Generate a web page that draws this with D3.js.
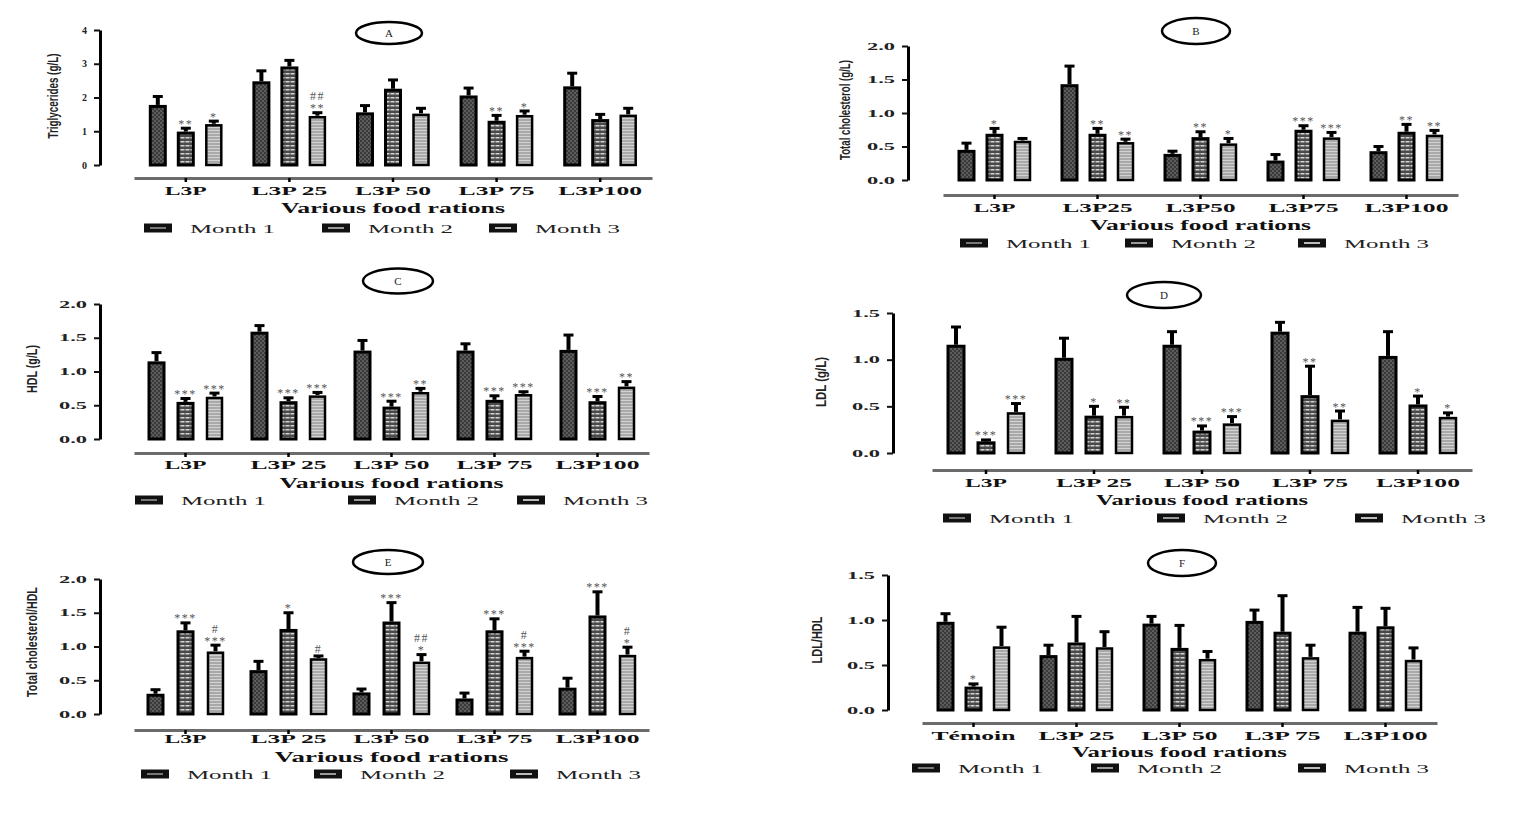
<!DOCTYPE html>
<html>
<head>
<meta charset="utf-8">
<script src="https://cdn.jsdelivr.net/npm/d3@7"></script>
<style>
html, body { margin: 0; padding: 0; background: #fff; }
svg { display: block; font-family: "Liberation Serif", "DejaVu Serif", serif; }
</style>
</head>
<body>
<svg id="chart" width="1513" height="825"></svg>
<script>
const months = ["Month 1", "Month 2", "Month 3"];
const rationsA = ["L3P", "L3P 25", "L3P 50", "L3P 75", "L3P100"];
const rationsB = ["L3P", "L3P25", "L3P50", "L3P75", "L3P100"];
const rationsF = ["Témoin", "L3P 25", "L3P 50", "L3P 75", "L3P100"];
const xTitle = "Various food rations";

// rows = rations, columns = month 1..3
const trigMean = [[1.78, 0.99, 1.22], [2.48, 2.92, 1.46], [1.56, 2.26, 1.53], [2.06, 1.31, 1.49], [2.33, 1.36, 1.50]];
const trigErr  = [[0.25, 0.10, 0.08], [0.31, 0.18, 0.09], [0.20, 0.26, 0.15], [0.22, 0.16, 0.11], [0.39, 0.14, 0.18]];
const cholMean = [[0.45, 0.69, 0.59], [1.43, 0.69, 0.57], [0.39, 0.64, 0.55], [0.29, 0.75, 0.64], [0.43, 0.72, 0.68]];
const cholErr  = [[0.10, 0.08, 0.03], [0.27, 0.08, 0.04], [0.04, 0.08, 0.07], [0.09, 0.06, 0.07], [0.07, 0.11, 0.06]];
const hdlMean  = [[1.15, 0.55, 0.63], [1.59, 0.56, 0.65], [1.31, 0.48, 0.70], [1.31, 0.58, 0.67], [1.32, 0.56, 0.78]];
const hdlErr   = [[0.13, 0.05, 0.05], [0.09, 0.05, 0.04], [0.15, 0.08, 0.05], [0.10, 0.06, 0.03], [0.22, 0.07, 0.07]];
const ldlMean  = [[1.16, 0.125, 0.44], [1.02, 0.40, 0.40], [1.16, 0.24, 0.32], [1.30, 0.62, 0.36], [1.04, 0.52, 0.39]];
const ldlErr   = [[0.19, 0.015, 0.09], [0.21, 0.10, 0.09], [0.14, 0.05, 0.07], [0.10, 0.31, 0.09], [0.26, 0.09, 0.04]];
const tcHdlMean = [[0.30, 1.24, 0.93], [0.65, 1.26, 0.83], [0.32, 1.37, 0.78], [0.23, 1.24, 0.85], [0.39, 1.46, 0.88]];
const tcHdlErr  = [[0.06, 0.11, 0.09], [0.13, 0.24, 0.03], [0.05, 0.28, 0.10], [0.08, 0.17, 0.08], [0.14, 0.35, 0.11]];
const ldlHdlMean = [[0.98, 0.26, 0.71], [0.61, 0.75, 0.70], [0.96, 0.69, 0.57], [0.99, 0.87, 0.59], [0.87, 0.93, 0.56]];
const ldlHdlErr  = [[0.09, 0.03, 0.21], [0.11, 0.29, 0.17], [0.08, 0.25, 0.08], [0.12, 0.40, 0.13], [0.27, 0.20, 0.13]];

// significance marks: [ration, month, lines from bottom up]
const trigNotes = [[0, 1, ["**"]], [0, 2, ["*"]], [1, 2, ["**", "##"]], [3, 1, ["**"]], [3, 2, ["*"]]];
const cholNotes = [[0, 1, ["*"]], [1, 1, ["**"]], [1, 2, ["**"]], [2, 1, ["**"]], [2, 2, ["*"]],
                   [3, 1, ["***"]], [3, 2, ["***"]], [4, 1, ["**"]], [4, 2, ["**"]]];
const hdlNotes = [[0, 1, ["***"]], [0, 2, ["***"]], [1, 1, ["***"]], [1, 2, ["***"]], [2, 1, ["***"]], [2, 2, ["**"]],
                  [3, 1, ["***"]], [3, 2, ["***"]], [4, 1, ["***"]], [4, 2, ["**"]]];
const ldlNotes = [[0, 1, ["***"]], [0, 2, ["***"]], [1, 1, ["*"]], [1, 2, ["**"]], [2, 1, ["***"]], [2, 2, ["***"]],
                  [3, 1, ["**"]], [3, 2, ["**"]], [4, 1, ["*"]], [4, 2, ["*"]]];
const tcHdlNotes = [[0, 1, ["***"]], [0, 2, ["***", "#"]], [1, 1, ["*"]], [1, 2, ["#"]], [2, 1, ["***"]], [2, 2, ["*", "##"]],
                    [3, 1, ["***"]], [3, 2, ["***", "#"]], [4, 1, ["***"]], [4, 2, ["*", "#"]]];
const ldlHdlNotes = [[0, 1, ["*"]]];

const panels = [
  {tag: "A", ylabel: "Triglycerides (g/L)", cats: rationsA, mean: trigMean, err: trigErr, notes: trigNotes,
   yMax: 4, ticks: [0, 1, 2, 3, 4], fmt: "d", tickLen: null,
   axX: 100, y0: 165, y1: 30, xr: [134, 652], xAxY: 178, catPad: 4, titleY: 213, legX: [144, 322, 489], legY: 228,
   badge: [389, 33, 33, 11], ylab: [53, 96, 85], pitch: 28, bw: 18, titleLen: 224},
  {tag: "B", ylabel: "Total cholesterol (g/L)", cats: rationsB, mean: cholMean, err: cholErr, notes: cholNotes,
   yMax: 2, ticks: [0, 0.5, 1, 1.5, 2], fmt: ".1f", tickLen: 28,
   axX: 908, y0: 180, y1: 46, xr: [943, 1458], xAxY: 195, catPad: 4, titleY: 230, legX: [960, 1125, 1298], legY: 243,
   badge: [1196, 31, 34, 13], ylab: [845, 110, 100], pitch: 28, bw: 18, titleLen: 221},
  {tag: "C", ylabel: "HDL (g/L)", cats: rationsA, mean: hdlMean, err: hdlErr, notes: hdlNotes,
   yMax: 2, ticks: [0, 0.5, 1, 1.5, 2], fmt: ".1f", tickLen: 28,
   axX: 100, y0: 439, y1: 304, xr: [134, 649], xAxY: 453, catPad: 3, titleY: 488, legX: [135, 348, 517], legY: 500,
   badge: [398, 281, 35, 12.5], ylab: [32, 369, 48], pitch: 29, bw: 18, titleLen: 224},
  {tag: "D", ylabel: "LDL (g/L)", cats: rationsA, mean: ldlMean, err: ldlErr, notes: ldlNotes,
   yMax: 1.5, ticks: [0, 0.5, 1, 1.5], fmt: ".1f", tickLen: 28,
   axX: 893, y0: 453, y1: 313, xr: [932, 1472], xAxY: 470, catPad: 4, titleY: 505, legX: [943, 1157, 1355], legY: 518,
   badge: [1164, 295, 37, 13], ylab: [821, 382, 50], pitch: 30, bw: 19, titleLen: 212},
  {tag: "E", ylabel: "Total cholesterol/HDL", cats: rationsA, mean: tcHdlMean, err: tcHdlErr, notes: tcHdlNotes,
   yMax: 2, ticks: [0, 0.5, 1, 1.5, 2], fmt: ".1f", tickLen: 28,
   axX: 100, y0: 714, y1: 579, xr: [134, 649], xAxY: 730, catPad: 0, titleY: 762, legX: [141, 314, 510], legY: 774,
   badge: [388, 562, 35, 12], ylab: [32, 642, 110], pitch: 30, bw: 18, titleLen: 234},
  {tag: "F", ylabel: "LDL/HDL", cats: rationsF, mean: ldlHdlMean, err: ldlHdlErr, notes: ldlHdlNotes,
   yMax: 1.5, ticks: [0, 0.5, 1, 1.5], fmt: ".1f", tickLen: 28,
   axX: 888, y0: 710, y1: 575, xr: [922, 1437], xAxY: 723, catPad: 4, titleY: 757, legX: [912, 1091, 1298], legY: 768,
   badge: [1182, 563, 34, 13], ylab: [817, 640, 47], pitch: 28, bw: 18, titleLen: 215}
];

const svg = d3.select("#chart");
const defs = svg.append("defs");

// bar textures
let p1 = defs.append("pattern").attr("id", "m1").attr("patternUnits", "userSpaceOnUse").attr("width", 4).attr("height", 4);
p1.append("rect").attr("width", 4).attr("height", 4).attr("fill", "#5c5c5c");
p1.append("rect").attr("width", 2).attr("height", 2).attr("fill", "#3a3a3a");
p1.append("rect").attr("x", 2).attr("y", 2).attr("width", 2).attr("height", 2).attr("fill", "#3a3a3a");

let p2 = defs.append("pattern").attr("id", "m2").attr("patternUnits", "userSpaceOnUse").attr("width", 5).attr("height", 4);
p2.append("rect").attr("width", 5).attr("height", 4).attr("fill", "#4a4a4a");
p2.append("rect").attr("x", 0.5).attr("y", 1).attr("width", 4).attr("height", 1.5).attr("fill", "#d4d4d4");

let p3 = defs.append("pattern").attr("id", "m3").attr("patternUnits", "userSpaceOnUse").attr("width", 4).attr("height", 3);
p3.append("rect").attr("width", 4).attr("height", 3).attr("fill", "#a9a9a9");
p3.append("rect").attr("y", 1).attr("width", 4).attr("height", 1).attr("fill", "#d2d2d2");

const fills = ["url(#m1)", "url(#m2)", "url(#m3)"];

// per-label width, the original font is very wide
const labelLen = t => t.split("").reduce((s, ch) => s + (ch === " " ? 6 : 14), 0);

panels.forEach(p => {
  const g = svg.append("g").attr("class", "panel");
  const y = d3.scaleLinear().domain([0, p.yMax]).range([p.y0, p.y1]);
  const x = d3.scaleBand().domain(p.cats).range(p.xr);
  const off = d3.scalePoint().domain(months).range([-p.pitch, p.pitch]);
  const cx = d => x(d.c) + x.bandwidth() / 2 + off(d.m);

  //y axis
  const ya = g.append("g")
    .attr("transform", `translate(${p.axX},0)`)
    .call(d3.axisLeft(y).tickValues(p.ticks).tickFormat(d3.format(p.fmt))
      .tickSize(6).tickSizeOuter(0).tickPadding(7));
  ya.attr("font-family", null).attr("font-size", null);
  ya.select(".domain").attr("stroke", "#000").attr("stroke-width", 3);
  ya.selectAll(".tick line").attr("stroke", "#111").attr("stroke-width", 2);
  const yt = ya.selectAll(".tick text")
    .attr("font-weight", "bold").attr("font-size", 10).attr("fill", "#222");
  if (p.tickLen) yt.attr("textLength", p.tickLen).attr("lengthAdjust", "spacingAndGlyphs");

  //x axis, drawn apart below the bars
  const xa = g.append("g")
    .attr("transform", `translate(0,${p.xAxY})`)
    .call(d3.axisBottom(x).tickSize(4).tickSizeOuter(0).tickPadding(p.catPad));
  xa.attr("font-family", null).attr("font-size", null);
  xa.select(".domain").attr("stroke", "#6b6b6b").attr("stroke-width", 3);
  xa.selectAll(".tick line").attr("stroke", "#000").attr("stroke-width", 2.5);
  xa.selectAll(".tick text")
    .attr("font-weight", "bold").attr("font-size", 13).attr("fill", "#111")
    .attr("textLength", d => labelLen(d)).attr("lengthAdjust", "spacingAndGlyphs");

  g.append("text")
    .attr("x", (p.xr[0] + p.xr[1]) / 2)
    .attr("y", p.titleY)
    .attr("text-anchor", "middle")
    .attr("font-weight", "bold").attr("font-size", 14).attr("fill", "#111")
    .attr("textLength", p.titleLen).attr("lengthAdjust", "spacingAndGlyphs")
    .text(xTitle);

  //y label, squeezed along its length like the original
  const yl = g.append("text")
    .attr("text-anchor", "middle")
    .attr("dominant-baseline", "central")
    .attr("font-family", "Liberation Sans, Arial, sans-serif")
    .attr("font-weight", "bold").attr("font-size", 15).attr("fill", "#222")
    .text(p.ylabel);
  const sx = p.ylab[2] / yl.node().getComputedTextLength();
  yl.attr("transform", `translate(${p.ylab[0]},${p.ylab[1]}) rotate(-90) scale(${sx},1)`);

  //bars
  const rows = p.cats.flatMap((c, i) => months.map((m, j) => ({c: c, m: m, i: i, j: j, v: p.mean[i][j], e: p.err[i][j]})));
  const bars = g.append("g").selectAll("g")
    .data(rows)
    .enter().append("g");

  bars.append("line")
    .attr("x1", cx).attr("x2", cx)
    .attr("y1", d => y(d.v)).attr("y2", d => y(d.v + d.e))
    .attr("stroke", "#000").attr("stroke-width", 4);

  bars.append("line")
    .attr("x1", d => cx(d) - 5).attr("x2", d => cx(d) + 5)
    .attr("y1", d => y(d.v + d.e)).attr("y2", d => y(d.v + d.e))
    .attr("stroke", "#000").attr("stroke-width", 3);

  bars.append("rect")
    .attr("x", d => cx(d) - p.bw / 2 + 1.5)
    .attr("y", d => y(d.v) + 1.5)
    .attr("width", p.bw - 3)
    .attr("height", d => Math.max(0, y(0) - y(d.v) - 1.5))
    .attr("fill", d => fills[d.j])
    .attr("stroke", "#000")
    .attr("stroke-width", d => d.j === 2 ? 2.5 : 3);

  //significance marks
  const notes = p.notes.flatMap(([i, j, lines]) => lines.map((t, k) => ({
    c: p.cats[i], m: months[j], t: t, k: k, top: p.mean[i][j] + p.err[i][j]
  })));
  g.append("g").selectAll("text")
    .data(notes)
    .enter().append("text")
    .attr("x", cx)
    .attr("y", d => y(d.top) - 7 - d.k * 10 + (d.t.includes("#") ? 4.5 : 6.5))
    .attr("text-anchor", "middle")
    .attr("font-size", 12)
    .attr("letter-spacing", 1.5)
    .attr("fill", "#555")
    .text(d => d.t);

  //legend
  const leg = g.append("g").selectAll("g")
    .data(months)
    .enter().append("g")
    .attr("transform", (d, j) => `translate(${p.legX[j]},${p.legY})`);
  leg.append("rect")
    .attr("x", 0).attr("y", -4.5).attr("width", 28).attr("height", 9)
    .attr("fill", "#111");
  leg.append("rect")
    .attr("x", 6).attr("y", -1).attr("width", 16).attr("height", 2)
    .attr("fill", (d, j) => ["#777", "#999", "#bbb"][j]);
  leg.append("text")
    .attr("x", 46).attr("y", 4.5)
    .attr("font-size", 13).attr("fill", "#222")
    .attr("textLength", 85).attr("lengthAdjust", "spacingAndGlyphs")
    .text(d => d);

  //panel letter
  g.append("ellipse")
    .attr("cx", p.badge[0]).attr("cy", p.badge[1])
    .attr("rx", p.badge[2]).attr("ry", p.badge[3])
    .attr("fill", "none").attr("stroke", "#000").attr("stroke-width", 2.5);
  g.append("text")
    .attr("x", p.badge[0]).attr("y", p.badge[1])
    .attr("text-anchor", "middle").attr("dominant-baseline", "central")
    .attr("font-size", 11).attr("fill", "#222")
    .text(p.tag);
});
</script>
</body>
</html>
